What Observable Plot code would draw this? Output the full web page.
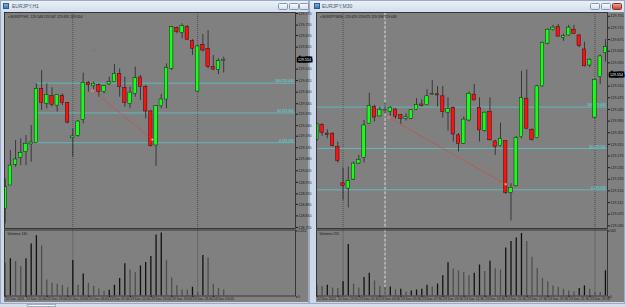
<!DOCTYPE html>
<html><head><meta charset="utf-8">
<script src="https://cdn.jsdelivr.net/npm/d3@7"></script>
<script src="https://cdn.jsdelivr.net/npm/@observablehq/plot@0.6"></script>
<style>
html,body{margin:0;padding:0;background:#d8e1ec;}
#root{position:relative;width:625px;height:307px;overflow:hidden;background:#d5deea;font-family:"Liberation Sans",Arial,sans-serif;}
.win{position:absolute;top:0;height:304px;background:#cdd9e8;border:1px solid #9aabc3;box-sizing:border-box;}
.tbar{position:absolute;left:0;right:0;top:0;height:11px;background:linear-gradient(#eaf0f8,#d2deec);}
.ttl{position:absolute;left:11px;top:2.5px;font-size:5px;line-height:5px;color:#4a5668;}
.icon{position:absolute;left:2px;top:2px;width:6px;height:6px;background:linear-gradient(#7fb0e0,#3d78b8);border:0.5px solid #2c5a90;box-sizing:border-box;}
.btn{position:absolute;top:2px;width:10px;height:7px;border:0.6px solid #8496b0;border-radius:1.5px;background:linear-gradient(#f7f9fc,#d5dfeb);box-sizing:border-box;}
.btn.close{background:linear-gradient(#e9a090,#c9452e);border-color:#8a3020;}
.cbg{position:absolute;background:#808080;}
.pl{position:absolute;}
.tab{position:absolute;top:304px;height:3px;background:#ffffff;border:0.5px solid #9aabc3;box-sizing:border-box;}
</style></head>
<body><div id="root">
  <div class="win" style="left:0;width:309px;">
    <div class="tbar"></div><div class="icon"></div><div class="ttl">EURJPY,H1</div>
    <div class="btn" style="left:277px"></div><div class="btn" style="left:287.5px"></div><div class="btn" style="left:298px"></div>
  </div>
  <div class="win" style="left:309px;width:316px;">
    <div class="tbar"></div><div class="icon" style="left:4px"></div><div class="ttl" style="left:12px">EURJPY,M30</div>
    <div class="btn" style="left:280px"></div><div class="btn" style="left:291px"></div><div class="btn close" style="left:302px"></div>
  </div>
  <div class="cbg" style="left:4px;top:12px;width:304px;height:290px;"></div>
  <div class="cbg" style="left:316px;top:12px;width:308px;height:290px;"></div>
  <div class="tab" style="left:27px;width:29px;"></div>
  <div class="pl" id="lm" style="left:4px;top:12px;"></div>
  <div class="pl" id="lv" style="left:4px;top:228px;"></div>
  <div class="pl" id="rm" style="left:316px;top:12px;"></div>
  <div class="pl" id="rv" style="left:316px;top:228px;"></div>
</div>
<script>
// ---------- EURJPY H1 (left) ----------
const leftOpen  = [128.844,128.955,129.054,129.087,129.114,129.151,129.159,129.416,129.344,129.383,129.336,129.383,129.349,129.181,129.192,129.268,129.445,129.429,129.433,129.402,129.437,129.449,129.487,129.421,129.344,129.392,129.470,129.425,129.308,129.146,129.333,129.365,129.511,129.707,129.683,129.710,129.643,129.403,129.626,129.607,129.521,129.507,129.548];
const leftHigh  = [128.987,129.122,129.170,129.178,129.193,129.241,129.440,129.503,129.440,129.421,129.389,129.392,129.351,129.225,129.265,129.491,129.451,129.448,129.440,129.432,129.472,129.532,129.511,129.472,129.424,129.519,129.480,129.432,129.313,129.336,129.389,129.535,129.713,129.710,129.726,129.718,129.650,129.623,129.675,129.694,129.575,129.559,129.567];
const leftLow   = [128.772,128.955,129.042,129.050,129.050,129.066,129.159,129.313,129.321,129.329,129.305,129.336,129.249,129.090,129.185,129.249,129.400,129.408,129.376,129.392,129.432,129.448,129.376,129.329,129.321,129.376,129.360,129.273,129.138,129.047,129.321,129.321,129.503,129.678,129.654,129.646,129.575,129.400,129.591,129.511,129.503,129.484,129.491];
const leftClose = [128.947,129.050,129.079,129.111,129.154,129.160,129.416,129.348,129.387,129.340,129.387,129.348,129.255,129.189,129.260,129.445,129.433,129.440,129.402,129.429,129.448,129.487,129.425,129.348,129.398,129.467,129.424,129.308,129.143,129.333,129.365,129.515,129.710,129.688,129.716,129.650,129.607,129.618,129.599,129.519,129.508,129.548,129.554];
const leftVolume = [700,796,738,630,796,1115,1289,1072,340,275,253,224,174,760,232,471,275,210,152,101,123,232,376,688,557,500,644,717,847,1303,1347,767,384,217,130,130,188,80,869,811,253,159,130];
const leftPriceTicks = [129.775,129.720,129.670,129.615,129.565,129.510,129.455,129.400,129.345,129.295,129.240,129.190,129.135,129.080,129.025,128.970,128.915,128.865,128.810,128.755];
const leftTimeLabels = ["22 Dec 2011","22 Dec 15:00","22 Dec 19:00","22 Dec 23:00","23 Dec 03:00","23 Dec 07:00","23 Dec 11:00","23 Dec 15:00","23 Dec 19:00","23 Dec 23:00","24 Dec 03:00"];
const leftTimeAt = [1,5,9,13,17,21,25,29,33,37,41];
const leftDaySeparators = [14,38];
const leftTrend = [{i:17.8,p:129.408},{i:29.3,p:129.174}];
const leftFibStart = 7;

// ---------- EURJPY M30 (right) ----------
const rightOpen  = [129.331,129.382,129.352,129.352,129.306,129.181,129.163,129.194,129.249,129.269,129.386,129.443,129.411,129.431,129.427,129.435,129.415,129.403,129.403,129.434,129.452,129.450,129.486,129.487,129.480,129.424,129.441,129.346,129.317,129.397,129.486,129.441,129.361,129.427,129.325,129.309,129.326,129.148,129.171,129.340,129.472,129.365,129.336,129.514,129.661,129.707,129.718,129.681,129.689,129.709,129.689,129.641,129.586,129.407,129.546,129.629];
const rightHigh  = [129.388,129.386,129.365,129.354,129.323,129.234,129.237,129.254,129.277,129.397,129.491,129.449,129.443,129.455,129.445,129.437,129.417,129.420,129.434,129.472,129.468,129.503,129.535,129.514,129.514,129.475,129.443,129.352,129.409,129.495,129.521,129.475,129.426,129.475,129.329,129.388,129.326,129.180,129.342,129.566,129.571,129.369,129.518,129.666,129.712,129.724,129.727,129.693,129.724,129.724,129.693,129.666,129.609,129.541,129.621,129.675];
const rightLow   = [129.326,129.342,129.334,129.306,129.251,129.123,129.097,129.191,129.246,129.251,129.386,129.392,129.409,129.420,129.411,129.401,129.384,129.395,129.400,129.432,129.443,129.449,129.483,129.443,129.405,129.361,129.323,129.289,129.315,129.392,129.464,129.323,129.357,129.326,129.277,129.306,129.143,129.052,129.168,129.334,129.365,129.326,129.334,129.512,129.657,129.704,129.684,129.669,129.687,129.693,129.647,129.581,129.578,129.403,129.521,129.598];
const rightClose = [129.386,129.354,129.347,129.309,129.258,129.172,129.189,129.249,129.262,129.380,129.447,129.407,129.434,129.432,129.441,129.410,129.403,129.408,129.432,129.450,129.447,129.480,129.489,129.483,129.426,129.437,129.349,129.317,129.400,129.489,129.466,129.363,129.424,129.329,129.306,129.334,129.148,129.166,129.337,129.474,129.369,129.331,129.514,129.664,129.709,129.716,129.685,129.687,129.716,129.695,129.652,129.583,129.606,129.537,129.617,129.649];
const rightVolume = [92,80,92,69,63,121,439,100,69,158,195,129,80,75,77,52,57,34,43,52,57,92,77,103,172,284,230,215,201,172,195,264,210,296,232,221,410,465,494,534,465,330,235,152,121,86,75,57,43,37,63,86,57,29,29,215];
const rightPriceTicks = [129.755,129.715,129.675,129.635,129.595,129.555,129.515,129.475,129.435,129.395,129.355,129.315,129.275,129.235,129.195,129.155,129.115,129.075,129.035];
const rightTimeLabels = ["22 Dec 2011","22 Dec 23:30","23 Dec 01:30","23 Dec 03:30","23 Dec 05:30","23 Dec 07:30","23 Dec 09:30","23 Dec 11:30","23 Dec 13:30","23 Dec 15:30","23 Dec 17:30","23 Dec 19:30","23 Dec 21:30","23 Dec 23:30"];
const rightTimeAt = [1,5,9,13,17,21,25,29,33,37,41,45,49,53];
const rightDaySeparators = [6,54];
const rightCursorLine = [14];
const rightTrend = [{i:14.7,p:129.407},{i:37.0,p:129.178}];

// shared
const fibLevels = [129.443,129.301,129.159];
const fibNames = ["100","50","0"];
const bidPrice = 129.554;
const trendTagPrice = 129.601;

const f3 = d3.format(".3f");
const FONT = "Liberation Sans, Arial, sans-serif";

function candles(o,h,l,c){ return o.map((v,k)=>({i:k+1, open:v, high:h[k], low:l[k], close:c[k]})); }

function mainPane(cfg){
  const data = candles(cfg.open, cfg.high, cfg.low, cfg.close);
  const last = data[data.length-1];
  const fib = fibLevels.map((p,k)=>({p, name: fibNames[k]}));
  // the bid box covers the tick label that sits under it
  const pxPerPrice = 216 / (cfg.yDomain[1] - cfg.yDomain[0]);
  const ticks = cfg.ticks.filter(t => Math.abs(t - bidPrice) * pxPerPrice > 4.5);
  return Plot.plot({
    width: cfg.width, height: 217,
    marginLeft: 0, marginRight: cfg.mr, marginTop: 0, marginBottom: 1,
    x: {domain: cfg.xDomain, axis: null},
    y: {domain: cfg.yDomain, label: null},
    style: {background: "transparent", overflow: "visible", fontFamily: FONT, fontSize: "3.8px", color: "#111"},
    marks: [
      Plot.ruleX(cfg.sep, {stroke: "#2e2e2e", strokeWidth: 0.6, strokeDasharray: "1,1"}),
      Plot.ruleX(cfg.cursor || [], {stroke: "#f2f2f2", strokeWidth: 0.8, strokeDasharray: "3,1.6"}),
      Plot.ruleY(fib, {y: "p", x1: cfg.fibFrom, x2: cfg.xDomain[1], stroke: "#52d3d3", strokeWidth: 0.7}),
      Plot.text(fib, {y: "p", frameAnchor: "right", textAnchor: "end", dx: -1.5, dy: -2, text: d => d.name + " " + f3(d.p), fill: "#5ee0e0", fontSize: 3.4}),
      Plot.ruleX(data, {x: "i", y1: "low", y2: "high", stroke: "#262626", strokeWidth: 0.8, clip: true}),
      Plot.rect(data, {x1: d => d.i - 0.33, x2: d => d.i + 0.33, y1: "open", y2: "close",
        fill: d => d.close >= d.open ? "#14ff14" : "#ff1010", stroke: "#111", strokeWidth: 0.45, clip: true}),
      Plot.line(cfg.trend, {x: "i", y: "p", stroke: "#e8382a", strokeWidth: 0.6, strokeDasharray: "0.8,1.1"}),
      Plot.dot([cfg.trend[0]], {x: "i", y: "p", r: 1.1, stroke: "#ff9a9a", strokeWidth: 0.7}),
      Plot.dot([cfg.trend[1]], {x: "i", y: "p", r: 1, symbol: "square", fill: "#ffd28a", stroke: "#e86a2a", strokeWidth: 0.4}),
      Plot.ruleY([trendTagPrice], {x1: cfg.trend[0].i + 0.1, x2: cfg.trend[0].i + 0.5, stroke: "#d83a2a", strokeWidth: 0.6}),
      Plot.axisY(ticks, {anchor: "right", tickSize: 2, tickPadding: 1, tickFormat: f3, fontSize: 3.6, fill: "#1a1a1a", stroke: "#1a1a1a", label: null}),
      Plot.text([bidPrice], {y: d => d, frameAnchor: "right", textAnchor: "start", dx: 2.5, text: f3, fill: "#ffffff",
        stroke: "#000", strokeWidth: 3.2, paintOrder: "stroke", strokeLinejoin: "miter", fontSize: 3.6}),
      Plot.text([last], {frameAnchor: "top-left", dx: 3, dy: 3.2, textAnchor: "start", fill: "#151515", fontSize: 3.4,
        text: d => "\u25BE " + cfg.name + "  " + [d.open, d.high, d.low, d.close].map(f3).join(" ")}),
      Plot.frame({stroke: "#262626", strokeWidth: 0.8})
    ]
  });
}

function volumePane(cfg){
  const vols = cfg.volume.map((v,k,a)=>({i:k+1, v, up: k === 0 ? false : v > a[k-1]}));
  const last = vols[vols.length-1];
  return Plot.plot({
    width: cfg.width, height: 75,
    marginLeft: 0, marginRight: cfg.mr, marginTop: 1.5, marginBottom: 7.5,
    x: {domain: cfg.xDomain, label: null},
    y: {domain: [0, cfg.vmax], label: null},
    style: {background: "transparent", overflow: "visible", fontFamily: FONT, fontSize: "3.6px", color: "#111"},
    marks: [
      Plot.ruleX(cfg.sep, {stroke: "#2e2e2e", strokeWidth: 0.6, strokeDasharray: "1,1"}),
      Plot.ruleX(cfg.cursor || [], {stroke: "#f2f2f2", strokeWidth: 0.8, strokeDasharray: "3,1.6"}),
      Plot.ruleX(vols, {x: "i", y1: 0, y2: "v", stroke: d => d.up ? "#111111" : "#4e4e4e", strokeWidth: 1.3, clip: true}),
      Plot.text([last], {frameAnchor: "top-left", dx: 3, dy: 3, textAnchor: "start", fill: "#151515", fontSize: 3.4, text: d => "Volumes " + d.v}),
      Plot.axisY([0, cfg.vmax], {anchor: "right", tickSize: 1.5, tickPadding: 1, fontSize: 3.4, fill: "#1a1a1a", stroke: "#1a1a1a", label: null, dy: 1}),
      Plot.axisX(cfg.timeAt, {anchor: "bottom", tickSize: 1.5, tickPadding: 0.5, textAnchor: "start", dx: 0.3, fontSize: 3.4, fill: "#1a1a1a", stroke: "#1a1a1a", label: null,
        tickFormat: d => cfg.timeLabels[cfg.timeAt.indexOf(d)]}),
      Plot.frame({stroke: "#262626", strokeWidth: 0.8})
    ]
  });
}

const L = {name: "EURJPY,H1", open: leftOpen, high: leftHigh, low: leftLow, close: leftClose, volume: leftVolume,
  width: 304, mr: 13, xDomain: [0.87, 56.8], yDomain: [128.75, 129.78], ticks: leftPriceTicks,
  sep: leftDaySeparators, trend: leftTrend, fibFrom: leftFibStart, vmax: 1412, timeAt: leftTimeAt, timeLabels: leftTimeLabels};
const R = {name: "EURJPY,M30", open: rightOpen, high: rightHigh, low: rightLow, close: rightClose, volume: rightVolume,
  width: 308, mr: 17, xDomain: [0.94, 56.39], yDomain: [129.026, 129.768], ticks: rightPriceTicks,
  sep: rightDaySeparators, cursor: rightCursorLine, trend: rightTrend, fibFrom: 0.94, vmax: 563, timeAt: rightTimeAt, timeLabels: rightTimeLabels};

document.getElementById("lm").append(mainPane(L));
document.getElementById("lv").append(volumePane(L));
document.getElementById("rm").append(mainPane(R));
document.getElementById("rv").append(volumePane(R));
</script>
</body></html>
